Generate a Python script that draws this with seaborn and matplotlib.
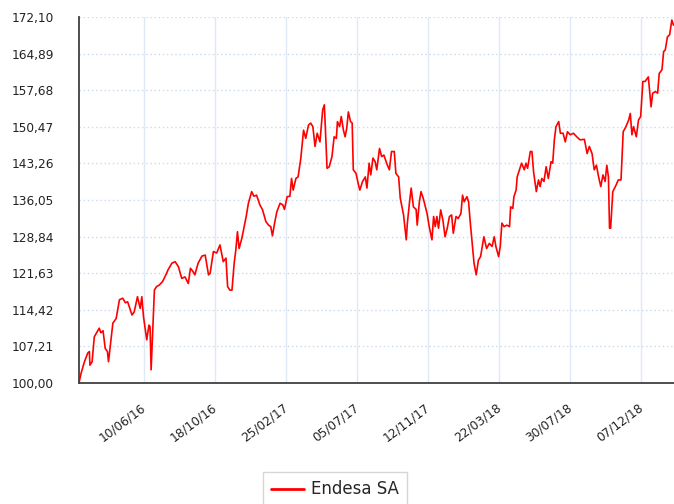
import pandas as pd
import matplotlib
matplotlib.use("Agg")
import matplotlib.pyplot as plt
import seaborn as sns
from matplotlib.transforms import ScaledTranslation

# serie: dias desde el inicio y valor del indice (base 100)
start = pd.Timestamp("2016-02-12")
days = [0, 4, 10, 16, 19, 20, 24, 28, 37, 40, 44, 48, 52, 54, 62, 68, 74, 80, 85, 89,
        97, 101, 107, 112, 115, 118, 124, 128, 130, 132, 138, 142, 147, 153, 159, 163, 170, 176, 182, 188,
        194, 200, 204, 209, 212, 218, 225, 231, 237, 240, 246, 252, 258, 264, 269, 272, 276, 280, 284, 287,
        290, 293, 298, 301, 306, 310, 316, 320, 325, 331, 336, 342, 347, 351, 354, 358, 362, 368, 373, 376,
        381, 386, 389, 392, 397, 401, 406, 411, 415, 420, 424, 428, 432, 436, 441, 446, 449, 450, 454, 458,
        463, 467, 471, 473, 477, 480, 484, 487, 490, 493, 497, 500, 502, 507, 511, 514, 519, 524, 527, 531,
        534, 538, 542, 545, 550, 554, 558, 563, 568, 572, 577, 580, 585, 588, 594, 599, 601, 605, 608, 612,
        617, 619, 623, 626, 630, 637, 641, 646, 649, 652, 655, 658, 662, 666, 670, 674, 678, 682, 685, 690,
        694, 699, 702, 705, 710, 713, 716, 721, 723, 727, 731, 735, 741, 746, 751, 756, 760, 763, 768, 771,
        774, 778, 783, 788, 790, 794, 796, 800, 802, 807, 810, 815, 818, 821, 826, 829, 832, 837, 841, 844,
        847, 851, 855, 859, 864, 867, 870, 873, 878, 881, 886, 890, 894, 899, 905, 911, 917, 925, 930, 934,
        939, 943, 947, 951, 955, 959, 963, 966, 969, 971, 973, 977, 983, 987, 992, 996, 1001, 1006, 1009, 1012,
        1015, 1020, 1024, 1028, 1032, 1036, 1042, 1047, 1050, 1055, 1059, 1062, 1067, 1070, 1073, 1077, 1081, 1085, 1088]
values = [100.0, 102.0, 104.2, 105.9, 106.2, 103.5, 104.2, 109.1, 110.8, 109.9, 110.3, 106.8, 106.2, 104.2, 111.8, 112.7, 116.4, 116.7, 115.8, 116.0,
          113.4, 114.0, 117.0, 114.7, 117.0, 113.1, 108.5, 111.4, 111.1, 102.6, 118.3, 119.0, 119.3, 120.0, 121.3, 122.3, 123.6, 123.9, 122.9, 120.6,
          120.9, 119.6, 122.6, 121.9, 121.3, 123.6, 125.0, 125.2, 121.3, 121.6, 125.9, 125.6, 127.2, 123.9, 124.6, 119.0, 118.3, 118.3, 123.6, 126.2,
          129.8, 126.5, 128.5, 130.1, 132.8, 135.4, 137.7, 136.8, 137.0, 135.1, 134.1, 131.8, 131.1, 130.8, 129.0, 131.5, 133.7, 135.4, 135.1, 134.2,
          136.7, 136.8, 140.3, 138.0, 140.3, 140.6, 144.3, 149.8, 148.2, 150.8, 151.2, 150.5, 146.6, 149.2, 147.5, 153.8, 154.8, 152.5, 142.3, 142.6,
          144.6, 148.5, 148.2, 151.5, 150.5, 152.5, 149.8, 148.5, 150.2, 153.4, 151.5, 151.2, 142.0, 141.3, 139.3, 138.0, 139.7, 140.6, 138.4, 143.3,
          141.0, 144.3, 143.6, 142.0, 146.2, 144.6, 144.9, 143.3, 142.0, 145.6, 145.6, 141.3, 140.6, 136.4, 133.1, 128.2, 131.5, 135.7, 138.4, 134.7,
          134.2, 131.1, 135.7, 137.7, 136.4, 133.4, 130.8, 128.2, 132.8, 130.8, 132.8, 130.5, 134.1, 132.1, 128.8, 130.5, 132.8, 133.1, 129.5, 132.8,
          132.4, 133.4, 137.0, 135.7, 136.7, 135.7, 131.8, 125.9, 123.6, 121.3, 124.2, 124.9, 128.8, 126.5, 127.5, 126.9, 128.8, 126.9, 124.9, 126.9,
          131.5, 130.8, 131.1, 130.8, 134.7, 134.4, 136.7, 138.0, 140.6, 142.3, 143.3, 142.0, 143.3, 142.3, 145.6, 145.6, 141.6, 137.7, 140.0, 138.7,
          140.3, 139.7, 142.6, 140.3, 143.6, 143.3, 147.9, 150.5, 151.5, 149.2, 149.2, 147.5, 149.5, 148.9, 149.2, 148.5, 147.9, 148.0, 145.2, 146.6,
          145.2, 142.0, 142.9, 140.6, 138.7, 141.0, 139.7, 142.9, 140.6, 130.5, 130.5, 137.7, 139.0, 140.0, 140.0, 149.5, 150.5, 151.8, 153.1, 148.9,
          150.5, 148.5, 151.8, 152.5, 159.4, 159.4, 160.3, 154.4, 157.1, 157.4, 157.1, 161.0, 161.7, 165.3, 165.6, 168.2, 168.6, 171.5, 170.5]

tick_dates = ["2016-06-10", "2016-10-18", "2017-02-25", "2017-07-05",
              "2017-11-12", "2018-03-22", "2018-07-30", "2018-12-07"]
y_ticks = [100.00, 107.21, 114.42, 121.63, 128.84, 136.05,
           143.26, 150.47, 157.68, 164.89, 172.10]

df = pd.DataFrame({"fecha": start + pd.to_timedelta(days, unit="D"), "valor": values})

sns.set_style("white")
plt.rcParams["font.family"] = ["DejaVu Sans"]

fig = plt.figure(figsize=(6.74, 5.04), dpi=100)
ax = fig.add_axes([79 / 674, 1 - 383 / 504, 1 - 79 / 674, 366 / 504])

sns.lineplot(data=df, x="fecha", y="valor", color="#ff0000", linewidth=1.2,
             ax=ax, label="Endesa SA", legend=False)

ax.set_xlim(start, start + pd.Timedelta(days=1089))
ax.set_ylim(100, 172.10)
ax.set_xlabel("")
ax.set_ylabel("")

xt = pd.to_datetime(tick_dates)
ax.set_xticks(xt)
ax.set_xticklabels([d.strftime("%d/%m/%y") for d in xt])
ax.set_yticks(y_ticks)
ax.set_yticklabels([f"{v:.2f}".replace(".", ",") for v in y_ticks])

ax.set_axisbelow(True)
ax.grid(axis="x", color="#dfe9f5", linestyle="-", linewidth=1)
ax.grid(axis="y", color="#c9dbef", linestyle=(0, (1, 2)), linewidth=1)

ax.tick_params(axis="y", length=15, width=1, color="#d5e3f3", pad=3,
               labelsize=8.7, labelcolor="#222222")
ax.tick_params(axis="x", length=12, width=1, color="#dfe9f5", pad=1,
               labelsize=8.7, labelcolor="#222222")

offset = ScaledTranslation(4 / 100, 0, fig.dpi_scale_trans)
for lbl in ax.get_xticklabels():
    lbl.set_rotation(37)
    lbl.set_ha("right")
    lbl.set_va("top")
    lbl.set_transform(lbl.get_transform() + offset)

for s in ["top", "right"]:
    ax.spines[s].set_visible(False)
for s in ["left", "bottom"]:
    ax.spines[s].set_color("#404040")
    ax.spines[s].set_linewidth(1.3)

h, l = ax.get_legend_handles_labels()
leg = fig.legend(h, l, loc="upper center", bbox_to_anchor=(335 / 674, 1 - 472 / 504),
                 frameon=True, fancybox=False, edgecolor="#cccccc", fontsize=12,
                 handlelength=2, handletextpad=0.4, borderpad=0.5, borderaxespad=0)
leg.get_frame().set_linewidth(1)
for line in leg.get_lines():
    line.set_linewidth(2)

fig.savefig("out.png", dpi=100)
